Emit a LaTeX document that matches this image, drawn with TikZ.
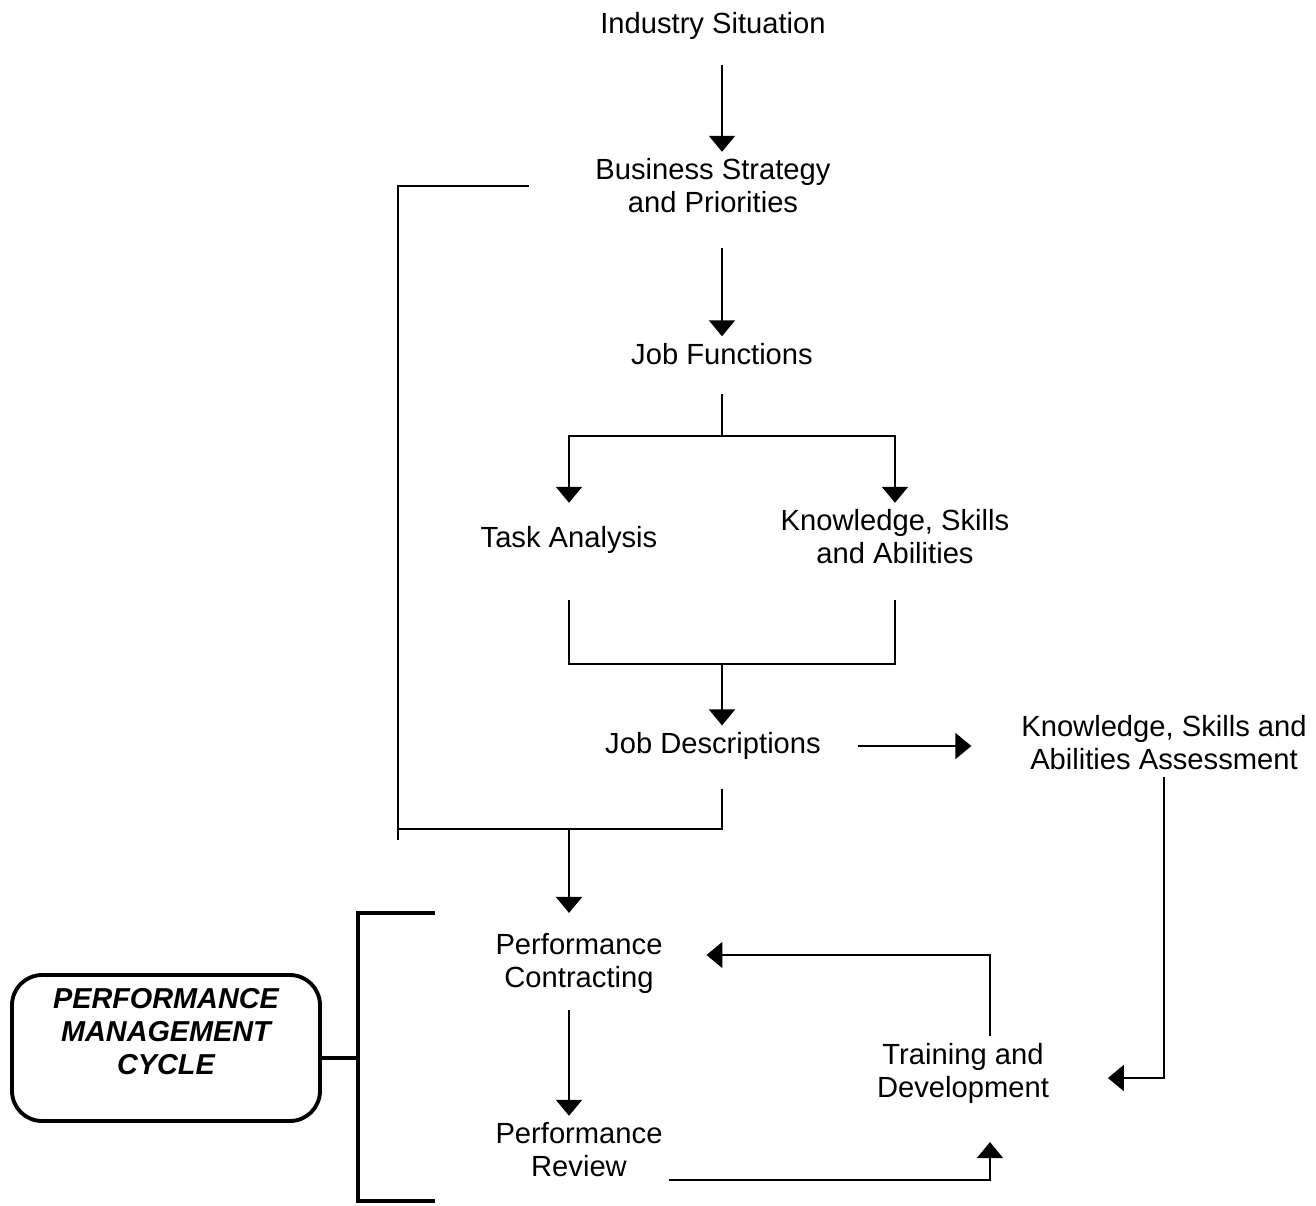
\documentclass[tikz,border=0pt]{standalone}
\usepackage{fontspec}
\setmainfont{Liberation Sans}
\usetikzlibrary{arrows.meta}
\tikzstyle{txt}=[align=center, inner sep=0pt, outer sep=0.14cm, font=\fontsize{16.6}{18.8}\selectfont]
\tikzstyle{ln}=[draw=black, line width=1.1pt]
\tikzstyle{arr}=[ln, -{Triangle[length=0.32cm,width=0.52cm]}]
\tikzstyle{brk}=[draw=black, line width=2.2pt]
\tikzstyle{pmbox}=[brk, rounded corners=0.6cm, minimum width=6.16cm, minimum height=2.92cm, align=center, font=\fontsize{16.4}{19}\selectfont\bfseries\itshape]

\begin{document}
\begin{tikzpicture}[x=0.02cm, y=-0.02cm]
		\useasboundingbox (0,0) rectangle (1316,1205);

		\node [style=txt] (is) at (713, 26) {Industry Situation};
		\node [style=txt] (bs) at (713, 186) {Business Strategy\\and Priorities};
		\node [style=txt] (jf) at (722, 354) {Job Functions};
		\node [style=txt] (ta) at (569, 540) {Task Analysis};
		\node [style=txt] (ksa) at (895, 537) {Knowledge, Skills\\and Abilities};
		\node [style=txt] (jd) at (713, 746) {Job Descriptions};
		\node [style=txt] (ksaa) at (1164, 743) {Knowledge, Skills and\\Abilities Assessment};
		\node [style=txt] (pc) at (579, 963) {Performance\\Contracting};
		\node [style=txt] (pr) at (579, 1150) {Performance\\Review};
		\node [style=txt] (td) at (963, 1073) {Training and\\Development};
		\node [style=pmbox] (pmc) at (166, 1048) {PERFORMANCE\\MANAGEMENT\\CYCLE\\\mbox{}};

		\coordinate (lb) at (398, 840);
		\coordinate (cyt) at (435, 913);
		\coordinate (cyb) at (435, 1201);

		\draw [style=arr] (is.south -| jf) ++(0,18) -- (bs.north -| jf);
		\draw [style=arr] (bs.south -| jf) ++(0,28) -- (jf.north);
		\draw [style=ln] (jf.south) ++(0,22) -- ++(0,42) coordinate (jfs);
		\draw [style=arr] (jfs) -| (ta.north |- ksa.north);
		\draw [style=arr] (jfs) -| (ksa.north);
		\draw [style=ln] (ta.south |- ksa.south) ++(0,29) -- ++(0,64) coordinate (tab) -| ([yshift=-0.58cm]ksa.south);
		\draw [style=arr] (tab -| jf) -- (jd.north -| jf);
		\draw [style=arr, shorten >=0.86cm] (jd.east) ++(30,0) -- (jd.east -| ksaa.west);

		% business strategy loop round to the performance cycle
		\draw [style=ln] (bs.west) ++(-59,0) -| (lb);
		\draw [style=ln] (jd.south -| jf) ++(0,22) -- ++(0,40) coordinate (jdb) -- (jdb -| lb);
		\draw [style=arr, shorten >=0.26cm] (jdb -| ta) -- (pc.north -| ta);

		\draw [style=arr] (pc.south -| ta) ++(0,10) -- (pr.north -| ta);
		\draw [style=arr, shorten >=0.64cm] ([yshift=-0.6cm]pr.east) -| ([xshift=0.54cm]td.south);
		\draw [style=arr, shorten >=0.74cm] ([xshift=0.54cm]td.north) |- ([yshift=0.16cm]pc.east);
		\draw [style=arr, shorten >=1.04cm] (ksaa.south) |- ([yshift=-0.1cm]td.east);

		\draw [style=brk] (cyt) -- ++(-77,0) |- (cyb);
		\draw [style=brk] ([yshift=-0.2cm]pmc.east) -- ++(36,0);
	\end{tikzpicture}
\end{document}
